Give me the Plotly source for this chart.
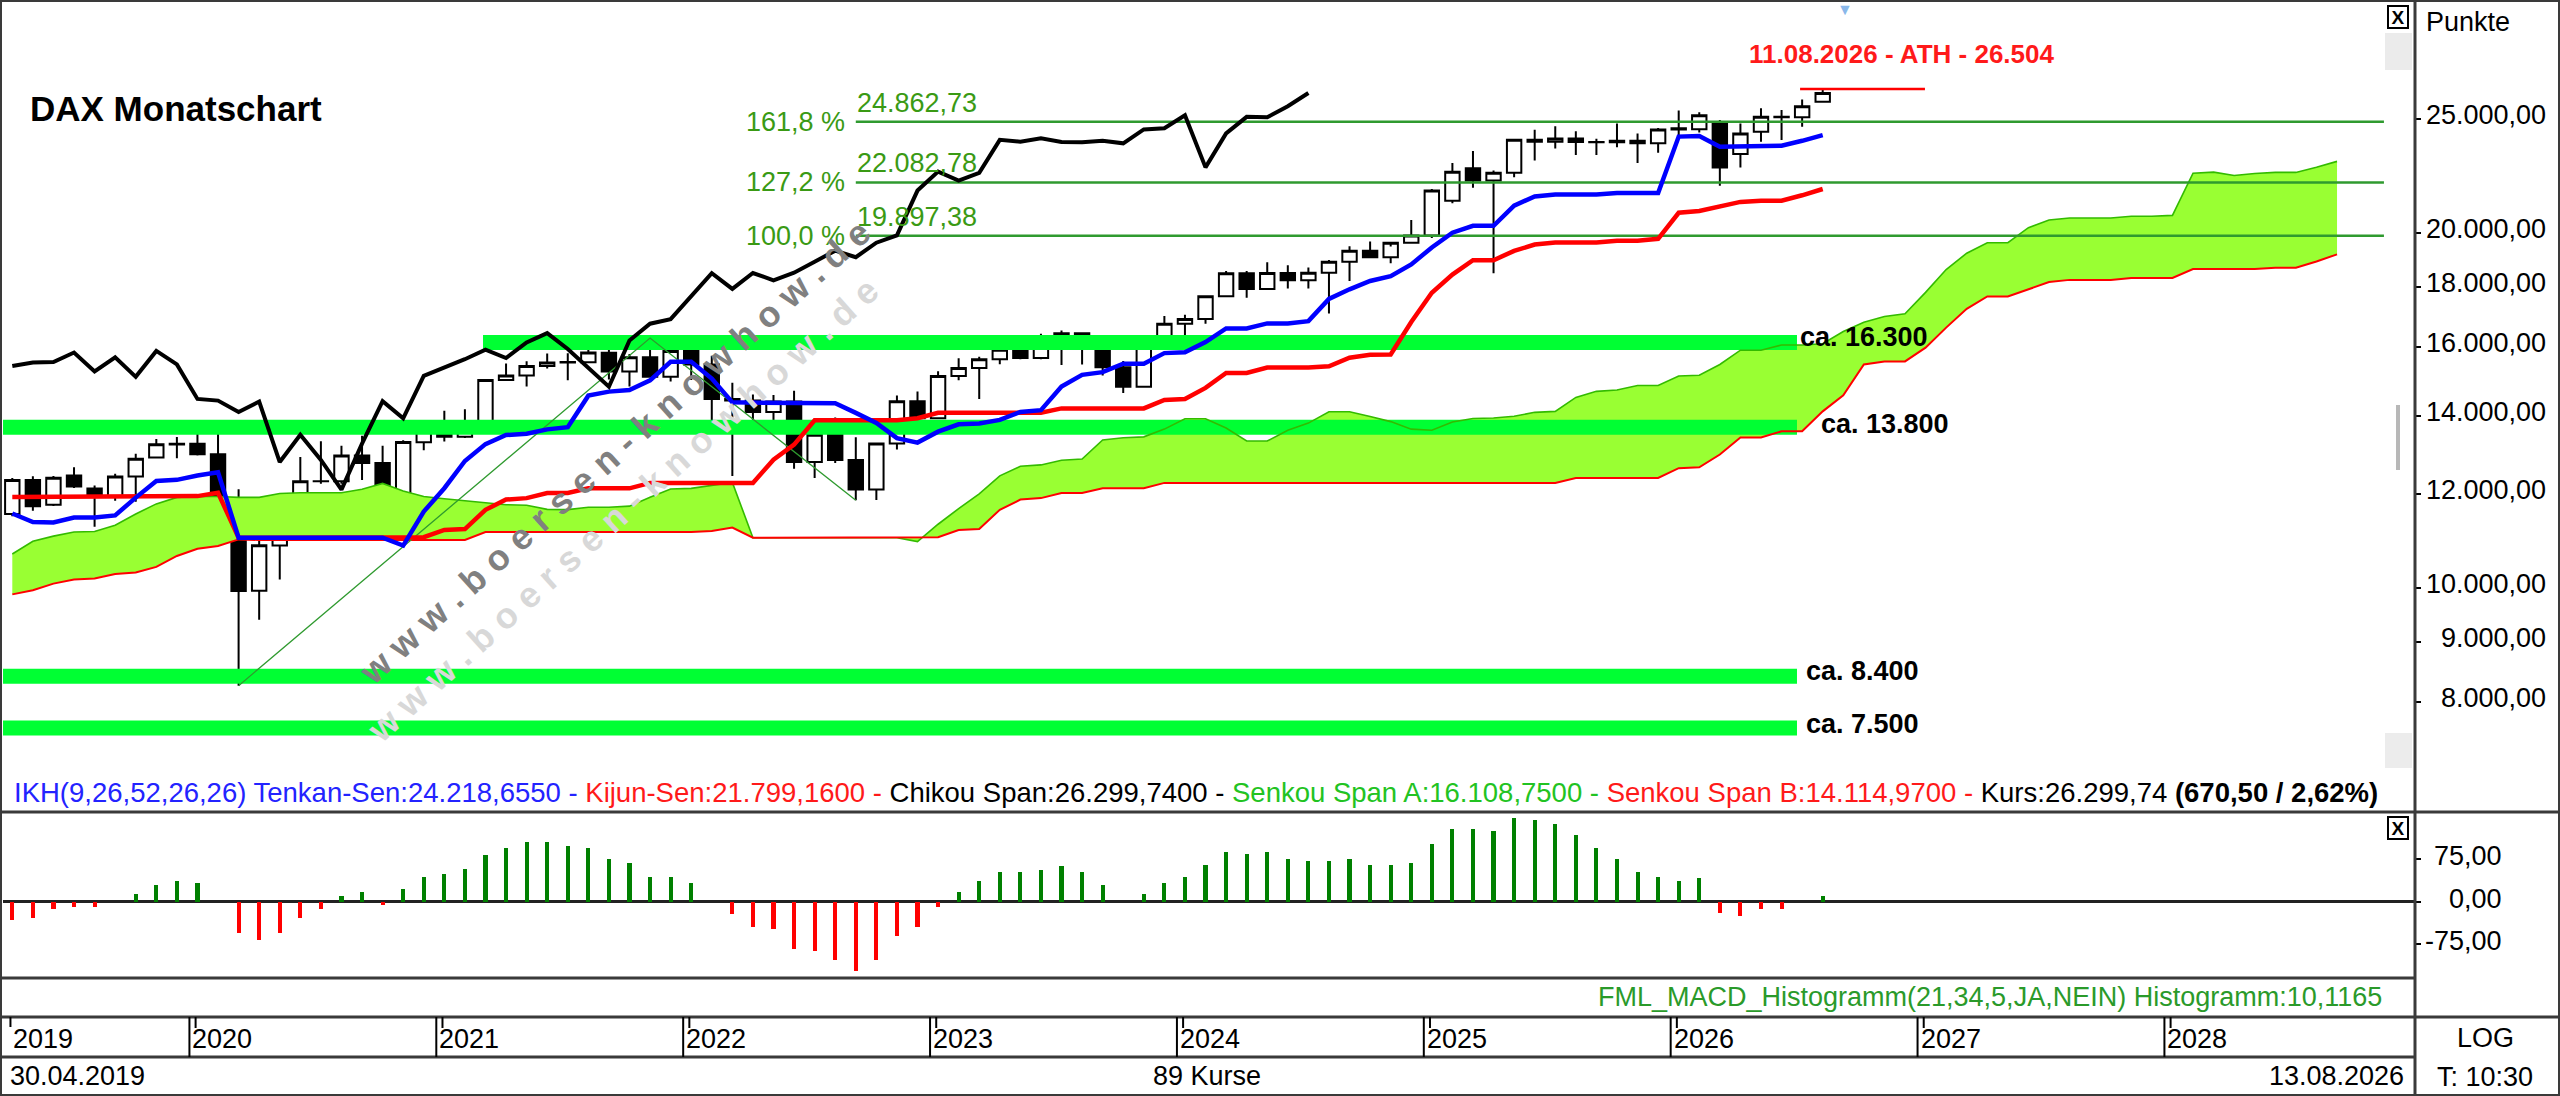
import math
import plotly.graph_objects as go

W, H = 2560, 1096
FONT = "Liberation Sans, Arial, Helvetica, sans-serif"

# ---------------- DATA (monthly DAX candles, 30.04.2019 .. 08.2026) ----------------
open_ = [11550, 12340, 11760, 12450, 12140, 11940, 12430, 12900, 13230, 13250,
         12980, 11900, 9940, 10860, 11590, 12310, 12313, 12945, 12760, 11560,
         13290, 13720, 13430, 13790, 15010, 15140, 15420, 15530, 15540, 15830,
         15260, 15690, 15100, 15885, 15470, 14460, 14415, 14100, 14388, 12784,
         13484, 12835, 12114, 13253, 14397, 13924, 15128, 15365, 15629, 15922,
         15664, 16148, 16447, 15947, 15387, 14810, 16215, 16752, 16904, 17678,
         18492, 17932, 18498, 18235, 18509, 18907, 19325, 19078, 19626, 19909,
         21300, 22700, 22163, 22497, 23997, 23910, 24065, 23902, 23880, 23958,
         23836, 24490, 24500, 24760, 23340, 24380, 25100, 25080, 25850]
high = [12390, 12436, 12440, 12656, 12210, 12495, 12990, 13374, 13425, 13640,
        13795, 12120, 11200, 11600, 12913, 13313, 13200, 13460, 13200, 13340,
        13815, 14131, 14170, 15030, 15501, 15569, 15803, 15811, 16030, 15950,
        15790, 16290, 15950, 16285, 15736, 14925, 14590, 14575, 14695, 13488,
        13948, 13417, 13270, 14556, 14676, 15269, 15659, 15706, 15900, 16332,
        16427, 16528, 16470, 16043, 15575, 16280, 17003, 17050, 17690, 18567,
        18567, 18893, 18784, 18700, 18970, 19491, 19675, 19484, 20522, 21800,
        22935, 23476, 22600, 24000, 24480, 24639, 24400, 24050, 24771, 24300,
        24560, 25420, 25330, 24950, 24780, 25520, 25440, 25970, 26504]
low = [11500, 11620, 11730, 12150, 11266, 11850, 11830, 12890, 12880, 12948,
       11724, 8256, 9390, 10160, 11590, 12250, 12250, 12340, 11450, 11560,
       13080, 13310, 13400, 13700, 15000, 14816, 15350, 15000, 15510, 15020,
       14819, 15080, 14960, 15010, 13807, 12439, 13664, 13536, 12618, 12390,
       12760, 11863, 11869, 13100, 13791, 13924, 15000, 14458, 15480, 15630,
       15630, 15456, 15469, 15139, 14630, 14780, 16200, 16345, 16750, 17670,
       17626, 17900, 17950, 17945, 17094, 18208, 19051, 18855, 19626, 19810,
       21200, 21850, 18490, 22300, 23050, 23600, 23300, 23300, 23650, 22930,
       23400, 24200, 24350, 21933, 22740, 23910, 23990, 24620, 25800]
close = [12344, 11727, 12399, 12189, 11939, 12428, 12867, 13236, 13249, 12981,
         11890, 9936, 10862, 11587, 12311, 12313, 12945, 12760, 11556, 13291,
         13719, 13433, 13786, 15008, 15136, 15421, 15531, 15544, 15835, 15261,
         15689, 15100, 15885, 15471, 14461, 14415, 14098, 14388, 12784, 13484,
         12835, 12114, 13253, 14397, 13924, 15128, 15365, 15629, 15922, 15664,
         16148, 16447, 15947, 15387, 14810, 16215, 16752, 16904, 17678, 18492,
         17932, 18498, 18235, 18509, 18907, 19325, 19078, 19626, 19909, 21732,
         22551, 22163, 22497, 23997, 23910, 24065, 23902, 23880, 23958, 23836,
         24490, 24550, 25180, 22740, 24300, 25100, 25080, 25629.24, 26299.74]

tenkan = [11560, 11370, 11360, 11468, 11468, 11518, 11925, 12320, 12346, 12453,
          12530, 11026, 11026, 11026, 11026, 11026, 11026, 11026, 11026, 10858,
          11603, 12146, 12810, 13240, 13476, 13510, 13627, 13686, 14555, 14670,
          14715, 14995, 15553, 15553, 15049, 14365, 14365, 14365, 14365, 14340,
          14338, 14074, 13800, 13394, 13279, 13566, 13761, 13785, 13882, 14098,
          14148, 14814, 15160, 15239, 15493, 15493, 15817, 15840, 16160, 16599,
          16599, 16762, 16762, 16837, 17585, 17918, 18213, 18385, 18808, 19447,
          20015, 20285, 20285, 21104, 21485, 21565, 21565, 21565, 21631, 21631,
          21631, 24150, 24175, 23677, 23677, 23727, 23727, 23952, 24219]
kijun = [11938, 11938, 11938, 11938, 11938, 11938, 11938, 11938, 11938, 11960,
         12037, 11026, 11026, 11026, 11026, 11026, 11026, 11026, 11026, 11026,
         11036, 11194, 11213, 11643, 11879, 11913, 12030, 12034, 12143, 12143,
         12143, 12273, 12273, 12273, 12273, 12273, 12273, 12840, 13225, 13870,
         13870, 13870, 13870, 13870, 13925, 14077, 14077, 14077, 14077, 14077,
         14077, 14196, 14196, 14196, 14196, 14196, 14433, 14457, 14777, 15215,
         15215, 15378, 15378, 15378, 15417, 15677, 15769, 15772, 16811, 17796,
         18443, 18967, 18967, 19315, 19555, 19635, 19635, 19635, 19700, 19700,
         19776, 20810, 20883, 21085, 21257, 21307, 21307, 21532, 21799]
senkou_a = [10680, 10950, 11060, 11150, 11160, 11300, 11550, 11780, 11930, 11950,
            11950, 11930, 11930, 12020, 12040, 12040, 12040, 12120, 12260, 12080,
            11950, 11900, 11850, 11800, 11760,
            11749, 11654, 11649, 11703, 11703, 11728, 11932, 12129, 12142, 12207,
            12284, 11026, 11026, 11026, 11026, 11026, 11026, 11026, 11026, 10942,
            11320, 11670, 12012, 12442, 12678, 12712, 12829, 12860, 13349, 13407,
            13429, 13634, 13913, 13913, 13661, 13319, 13319, 13603, 13795, 14105,
            14104, 13972, 13835, 13632, 13602, 13822, 13919, 13931, 13980, 14088,
            14113, 14505, 14678, 14718, 14845, 14845, 15125, 15149, 15469, 15907,
            15907, 16070, 16070, 16108, 16501, 16798, 16991, 17079, 17810, 18622,
            19229, 19626, 19626, 20210, 20520, 20600, 20600, 20600, 20666, 20666,
            20704, 22480, 22529, 22381, 22467, 22517, 22517, 22742, 23009]
senkou_b = [9870, 9950, 10080, 10160, 10180, 10270, 10300, 10414, 10640, 10790,
            10850, 10990, 10976, 10976, 10976, 10976, 10976, 10976, 10976, 10976,
            10976, 10976, 10976, 11148, 11148,
            11148, 11148, 11148, 11148, 11148, 11148, 11148, 11148, 11148, 11170,
            11247, 11026, 11026, 11026, 11026, 11026, 11026, 11026, 11026, 11026,
            11036, 11194, 11213, 11643, 11879, 11913, 12030, 12034, 12143, 12143,
            12143, 12273, 12273, 12273, 12273, 12273, 12273, 12273, 12273, 12273,
            12273, 12273, 12273, 12273, 12273, 12273, 12273, 12273, 12273, 12273,
            12273, 12392, 12392, 12392, 12392, 12392, 12630, 12653, 12973, 13412,
            13412, 13575, 13575, 14115, 14565, 15471, 15563, 15563, 15986, 16625,
            17248, 17670, 17670, 17932, 18172, 18251, 18251, 18251, 18317, 18317,
            18317, 18642, 18642, 18642, 18642, 18692, 18692, 18917, 19184]
macd_hist = [-32.5, -29.5, -13, -8.9, -8.9, 0, 13.6, 29.6, 37.2, 32.5,
             0, -56, -68, -56, -29.5, -13.6, 10, 17, -5.9, 21.9,
             44.3, 48.5, 57.3, 82.7, 95.7, 106.4, 106.4, 98.7, 95.7, 75.6,
             68, 44.3, 44.3, 32.5, 0, -21.9, -44.3, -49, -84.5, -87.5,
             -103.4, -122.3, -103.4, -60.3, -44.3, -8.9, 17.7, 37.2, 52, 52,
             56, 63.8, 52, 29.6, 0, 13.6, 32.5, 44.3, 64.4, 87.5,
             84, 87.5, 75, 72, 72, 75.6, 64.4, 64.4, 68, 103.4,
             130, 130, 126, 149, 146, 137.7, 118, 94.6, 75, 52,
             44.3, 36.6, 41.4, -20.7, -24.8, -13, -13, 0, 10.1165]
CHIKOU_SHIFT = 25

fib_levels = [24862.73, 22082.78, 19897.38]
fib_pct = ["161,8 %", "127,2 %", "100,0 %"]
fib_text = ["24.862,73", "22.082,78", "19.897,38"]
abc_index = [11, 31, 41]          # A = low, B = high, C = low
zone_values = [16150, 13680, 8410, 7600]
zone_labels = ["ca. 16.300", "ca. 13.800", "ca. 8.400", "ca. 7.500"]
price_ticks = [25000, 20000, 18000, 16000, 14000, 12000, 10000, 9000, 8000]
price_tick_text = ["25.000,00", "20.000,00", "18.000,00", "16.000,00", "14.000,00",
                   "12.000,00", "10.000,00", "9.000,00", "8.000,00"]
macd_ticks = [75, 0, -75]
macd_tick_text = ["75,00", "0,00", "-75,00"]
year_labels = ["2019", "2020", "2021", "2022", "2023", "2024", "2025", "2026", "2027", "2028"]

# ---------------- derived indices ----------------
n = len(close)
idx = list(range(n))
cloud_idx = list(range(len(senkou_a)))
chikou = close[CHIKOU_SHIFT:]
chikou_idx = list(range(len(chikou)))
months = []
yy, mm = 2019, 4
while len(months) < 118:
    months.append((yy, mm))
    mm += 1
    if mm > 12:
        mm, yy = 1, yy + 1
year_pos = [0] + [months.index((int(t), 1)) for t in year_labels[1:]]


# ---------------- layout helpers (pixel positions) ----------------
def px(x):
    return x / W


def py(y):
    return 1 - y / H


X_RANGE = [-0.452, 116.79]
Y_LOG = [3.80957, 4.49633]
MACD_RANGE = [-135.6, 159.4]
ZONE_START = [22.88, -1, -1, -1]
ZONE_END = 86.75
FIB_END = 115.28
ATH_X = [86.9, 92.97]

fig = go.Figure()
# Kumo fill
fig.add_trace(go.Scatter(x=cloud_idx, y=senkou_b, mode="lines", line=dict(width=0, color="#ff0000"),
                         hoverinfo="skip", showlegend=False))
fig.add_trace(go.Scatter(x=cloud_idx, y=senkou_a, mode="lines", line=dict(width=0, color="#33cc00"),
                         fill="tonexty", fillcolor="#99ff33", hoverinfo="skip", showlegend=False))
# support zones
for v, x0 in zip(zone_values, ZONE_START):
    fig.add_trace(go.Scatter(x=[x0, ZONE_END], y=[v, v], mode="lines",
                             line=dict(color="#00ff33", width=15), hoverinfo="skip", showlegend=False))
# Senkou lines
fig.add_trace(go.Scatter(x=cloud_idx, y=senkou_a, mode="lines", line=dict(width=1.6, color="#33bb00"),
                         hoverinfo="skip", showlegend=False))
fig.add_trace(go.Scatter(x=cloud_idx, y=senkou_b, mode="lines", line=dict(width=2, color="#ff0000"),
                         hoverinfo="skip", showlegend=False))
# Fibonacci projection lines
for lv in fib_levels:
    fig.add_trace(go.Scatter(x=[abc_index[2], FIB_END], y=[lv, lv], mode="lines",
                             line=dict(color="#2f9a2f", width=2.5), hoverinfo="skip", showlegend=False))
# ABC swing lines
fig.add_trace(go.Scatter(x=abc_index, y=[low[abc_index[0]], high[abc_index[1]], low[abc_index[2]]],
                         mode="lines", line=dict(color="#2f9a2f", width=1.3), hoverinfo="skip", showlegend=False))
# ATH line
fig.add_trace(go.Scatter(x=ATH_X, y=[max(high), max(high)], mode="lines",
                         line=dict(color="#ff0000", width=2.5), hoverinfo="skip", showlegend=False))
# Ichimoku lines
fig.add_trace(go.Scatter(x=idx, y=kijun, mode="lines", line=dict(color="#ff0000", width=4.5),
                         hoverinfo="skip", showlegend=False))
fig.add_trace(go.Scatter(x=idx, y=tenkan, mode="lines", line=dict(color="#0000ff", width=4.5),
                         hoverinfo="skip", showlegend=False))
fig.add_trace(go.Scatter(x=chikou_idx, y=chikou, mode="lines", line=dict(color="#000000", width=4),
                         hoverinfo="skip", showlegend=False))
# candles
fig.add_trace(go.Candlestick(x=idx, open=open_, high=high, low=low, close=close,
                             increasing=dict(line=dict(color="#000000", width=2), fillcolor="#ffffff"),
                             decreasing=dict(line=dict(color="#000000", width=2), fillcolor="#000000"),
                             whiskerwidth=0, hoverinfo="skip", showlegend=False))
# MACD histogram
fig.add_trace(go.Bar(x=idx, y=macd_hist, width=0.2,
                     marker=dict(color=["#008000" if v >= 0 else "#ff0000" for v in macd_hist], line=dict(width=0)),
                     xaxis="x2", yaxis="y2", hoverinfo="skip", showlegend=False))

ann = []


def A(text, x, y, xanchor="left", yanchor="middle", size=27, color="#000000", xref="paper", yref="paper", **kw):
    ann.append(dict(text=text, x=x, y=y, xref=xref, yref=yref, xanchor=xanchor, yanchor=yanchor,
                    showarrow=False, font=dict(family=FONT, size=size, color=color), **kw))


# title
A("<b>DAX Monatschart</b>", px(28), py(108), size=35)
# fib labels
for lv, pct, txt in zip(fib_levels, fib_pct, fib_text):
    A(pct, abc_index[2], math.log10(lv), xanchor="right", xref="x", yref="y", xshift=-9, color="#3a9a14")
    A(txt, abc_index[2], math.log10(lv), xanchor="left", xref="x", yref="y", yshift=19, xshift=-1, color="#3a9a14")
# zone labels
zone_shift = [(1, 5), (22, 3), (7, 5), (7, 4)]
for v, lab, (dx, dy) in zip(zone_values, zone_labels, zone_shift):
    A("<b>" + lab + "</b>", ZONE_END, math.log10(v), xref="x", yref="y", xshift=dx, yshift=dy, size=27)
# ATH
A("<b>11.08.2026 - ATH - 26.504</b>", px(1902), py(54), xanchor="center", size=26, color="#ff1a1a")
A("▼", px(1845), py(9), xanchor="center", size=16, color="#8ab8ea")
# watermark
wm = "w w w . b o e r s e n - k n o w h o w . d e"
A("<b>" + wm + "</b>", px(622), py(510), xanchor="center", size=36, color="#d8d8d8", textangle=-42)
A("<b>" + wm + "</b>", px(614), py(452), xanchor="center", size=36, color="#808080", textangle=-42)
# legend line
legend = ('<span style="color:#2323ff">IKH(9,26,52,26,26) Tenkan-Sen:24.218,6550 - </span>'
          '<span style="color:#ff1a1a">Kijun-Sen:21.799,1600 - </span>'
          '<span style="color:#000000">Chikou Span:26.299,7400 - </span>'
          '<span style="color:#22c322">Senkou Span A:16.108,7500 - </span>'
          '<span style="color:#ff1a1a">Senkou Span B:14.114,9700 - </span>'
          '<span style="color:#000000">Kurs:26.299,74 <b>(670,50 / 2,62%)</b></span>')
A(legend, px(12), py(792), size=27.5)
A("FML_MACD_Histogramm(21,34,5,JA,NEIN) Histogramm:10,1165", px(2384), py(997), xanchor="right",
  size=27, color="#2a9a2a")
# right axis labels
for v, t in zip(price_ticks, price_tick_text):
    A(t, px(2548), math.log10(v), xanchor="right", yref="y", yshift=4)
for v, t in zip(macd_ticks, macd_tick_text):
    A(t, px(2504), v, xanchor="right", yref="y2", yshift=3)
A("Punkte", px(2424), py(22))
A("LOG", px(2485), py(1038), xanchor="center")
A("T: 10:30", px(2485), py(1077), xanchor="center")
# x axis labels
for p, t in zip(year_pos, year_labels):
    A(t, p - (0.09 if p == 0 else 0.39), py(1039), xref="x", xshift=1)
A("30.04.2019", px(8), py(1076))
A(f"{n} Kurse", px(1207), py(1076), xanchor="center")
A("13.08.2026", px(2406), py(1076), xanchor="right")
# close boxes
for yb in (17, 828):
    A("<b>X</b>", px(2398), py(yb), xanchor="center", size=19, bordercolor="#000000", borderwidth=2,
      borderpad=0, bgcolor="#ffffff", width=18, height=20)

shapes = []


def S(x0, y0, x1, y1, color="#3a3a3a", width=3, kind="line", fill=None, xref="paper"):
    d = dict(type=kind, x0=x0, y0=y0, x1=x1, y1=y1, xref=xref, yref="paper",
             line=dict(color=color, width=width), layer="above")
    if fill:
        d["fillcolor"] = fill
    shapes.append(d)


# gray side elements
S(px(2385), py(33), px(2412), py(70), kind="rect", color="#ebebeb", width=0, fill="#ebebeb")
S(px(2385), py(733), px(2412), py(768), kind="rect", color="#ececec", width=0, fill="#ececec")
S(px(2398), py(405), px(2398), py(470), color="#b8b8b8", width=4)
# panel separators
S(0, py(812), 1, py(812))
S(0, py(978), px(2415), py(978))
S(0, py(1017), 1, py(1017))
S(0, py(1057), px(2415), py(1057))
S(px(2415), 0, px(2415), 1)
S(0, 0, 1, 1, kind="rect", color="#3a3a3a", width=4)
# year separators in the time axis row
for p in year_pos:
    if p == 0:
        S(p - 0.09, py(1027), p - 0.09, py(1017), xref="x", width=2, color="#000000")
    else:
        S(p - 0.39, py(1057), p - 0.39, py(1017), xref="x", width=2, color="#000000")
        S(p - 0.09, py(1028), p - 0.09, py(1017), xref="x", width=2, color="#000000")

fig.update_layout(
    width=W, height=H, margin=dict(l=0, r=0, t=0, b=0),
    paper_bgcolor="#ffffff", plot_bgcolor="#ffffff", showlegend=False,
    font=dict(family=FONT, size=27, color="#000000"),
    boxgap=0.3, boxgroupgap=0,
    xaxis=dict(domain=[px(3), px(2415)], range=X_RANGE, showgrid=False, zeroline=False,
               showticklabels=False, ticks="", rangeslider=dict(visible=False), anchor="y", fixedrange=True),
    yaxis=dict(domain=[py(812), py(3)], type="log", range=Y_LOG, side="right", anchor="x",
               showgrid=False, zeroline=False, showticklabels=False, ticks="outside", ticklen=5,
               tickwidth=2, tickcolor="#000000", tickvals=price_ticks, fixedrange=True),
    xaxis2=dict(domain=[px(3), px(2415)], range=X_RANGE, matches="x", showgrid=False, zeroline=False,
                showticklabels=False, ticks="", anchor="y2", fixedrange=True),
    yaxis2=dict(domain=[py(978), py(812)], range=MACD_RANGE, side="right", anchor="x2", showgrid=False,
                zeroline=True, zerolinecolor="#222222", zerolinewidth=2.5, showticklabels=False,
                ticks="outside", ticklen=5, tickwidth=2, tickcolor="#000000", tickvals=macd_ticks,
                fixedrange=True),
    bargap=0, annotations=ann, shapes=shapes,
)

fig.write_html("out.html", config={"displayModeBar": False},
               post_script="document.body.style.margin='0px';document.body.style.padding='0px';"
                           "document.body.style.overflow='hidden';")
